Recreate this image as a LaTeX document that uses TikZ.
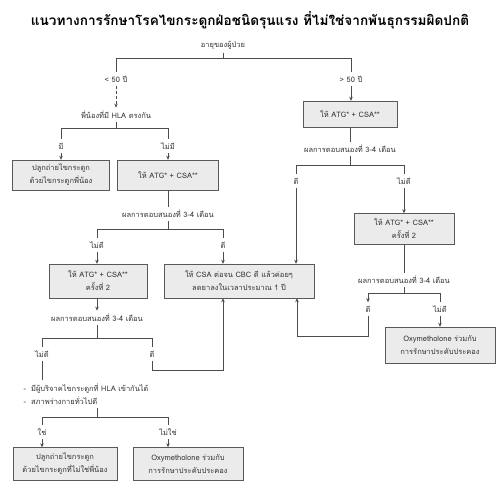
\documentclass[tikz,border=0pt]{standalone}
\usepackage{fontspec}
\newfontfamily\thaifont[Script=Thai]{Loma}
\usetikzlibrary{arrows.meta}

\tikzset{
  box/.style={draw=black!65, fill=black!8, align=center, inner sep=1pt,
    font=\thaifont\fontsize{7.5}{13}\selectfont},
  ln/.style={draw=black!70, line width=0.6pt},
  arr/.style={ln, -{Stealth[length=4pt,width=3.5pt]}},
}

\begin{document}
\begin{tikzpicture}[x=1pt, y=-1pt, font=\thaifont\fontsize{7.5}{9}\selectfont, text=black!80]
		\useasboundingbox (0,0) rectangle (500,495);
		\node[text=black] (title) at (250,20) {\fontsize{13.6}{15}\selectfont\bfseries แนวทางการรักษาโรคไขกระดูกฝ่อชนิดรุนแรง ที่ไม่ใช่จากพันธุกรรมผิดปกติ};
		% age split
		\node (age) at (223,45) {อายุของผู้ป่วย};
		\coordinate (h1l) at (116,58);
		\coordinate (h1r) at (351,58);
		\draw[ln] (age) -- (age |- h1l);
		\draw[ln] (h1l) -- (h1r);
		\node (lt) at (116,79) {< 50 ปี};
		\node (gt) at (351,79) {> 50 ปี};
		\draw[ln] (h1l) -- (lt);
		\draw[ln] (h1r) -- (gt);
		% left branch
		\node (sib) at (116,115) {พี่น้องที่มี HLA ตรงกัน};
		\draw[arr, densely dashed] (lt) -- (sib);
		\coordinate (h2l) at (61,128);
		\coordinate (h2r) at (168,128);
		\draw[ln] (sib) -- (sib |- h2l);
		\draw[ln] (h2l) -- (h2r);
		\node (has) at (61,146) {มี};
		\node (hasno) at (168,146) {ไม่มี};
		\draw[ln] (h2l) -- (has);
		\draw[ln] (h2r) -- (hasno);
		\node[box, minimum width=97pt, minimum height=30pt] (bsib) at (61,175) {ปลูกถ่ายไขกระดูก\\ด้วยไขกระดูกพี่น้อง};
		\node[box, minimum width=101pt, minimum height=30pt] (atga) at (168,175) {ให้ ATG* + CSA**};
		\draw[arr] (has) -- (bsib);
		\draw[arr] (hasno) -- (atga);
		\node (resa) at (168,214) {ผลการตอบสนองที่ 3-4 เดือน};
		\draw[ln] (atga) -- (resa);
		\coordinate (h3l) at (97,229);
		\coordinate (h3r) at (223,229);
		\draw[ln] (resa) -- (resa |- h3l);
		\draw[ln] (h3l) -- (h3r);
		\node (bada) at (97,245) {ไม่ดี};
		\node (gooda) at (223,245) {ดี};
		\draw[ln] (h3l) -- (bada);
		\draw[ln] (h3r) -- (gooda);
		\node[box, minimum width=98pt, minimum height=34pt] (atgb) at (98,281) {ให้ ATG* + CSA**\\ครั้งที่ 2};
		\node[box, minimum width=150pt, minimum height=34pt] (csa) at (239,281) {ให้ CSA ต่อจน CBC ดี แล้วค่อยๆ\\ลดยาลงในเวลาประมาณ 1 ปี};
		\draw[arr] (bada) -- (bada |- atgb.north);
		\draw[arr] (gooda) -- (gooda |- csa.north);
		\node (resb) at (97,318) {ผลการตอบสนองที่ 3-4 เดือน};
		\draw[arr] (atgb.south -| resb) -- (resb);
		\coordinate (h4l) at (42,338);
		\coordinate (h4r) at (152,338);
		\draw[ln] (resb) -- (resb |- h4l);
		\draw[ln] (h4l) -- (h4r);
		\node (badb) at (42,354) {ไม่ดี};
		\node (goodb) at (152,354) {ดี};
		\draw[ln] (h4l) -- (badb);
		\draw[ln] (h4r) -- (goodb);
		\coordinate (c1) at (223,370);
		\draw[arr] (goodb) |- (c1) -- (c1 |- csa.south);
		\node[anchor=west, align=left, font=\thaifont\fontsize{7.5}{13}\selectfont] (crit) at (20,394) {-\ \ มีผู้บริจาคไขกระดูกที่ HLA เข้ากันได้\\-\ \ สภาพร่างกายทั่วไปดี};
		\draw[ln] (badb) -- (badb |- crit.north);
		\coordinate (h5) at (97,417);
		\coordinate (h5l) at (42,417);
		\coordinate (h5r) at (168,417);
		\draw[ln] (h5 |- crit.south) -- (h5);
		\draw[ln] (h5l) -- (h5r);
		\node (yes) at (42,432) {ใช่};
		\node (no) at (168,432) {ไม่ใช่};
		\draw[ln] (h5l) -- (yes);
		\draw[ln] (h5r) -- (no);
		\node[box, minimum width=104pt, minimum height=33pt] (nsib) at (65,464) {ปลูกถ่ายไขกระดูก\\ด้วยไขกระดูกที่ไม่ใช่พี่น้อง};
		\node[box, minimum width=110pt, minimum height=33pt] (oxya) at (188,464) {Oxymetholone ร่วมกับ\\การรักษาประคับประคอง};
		\draw[arr] (yes) -- (yes |- nsib.north);
		\draw[arr] (no) -- (no |- oxya.north);
		% right branch
		\node[box, minimum width=94pt, minimum height=26pt] (atgc) at (350,114) {ให้ ATG* + CSA**};
		\draw[arr] (gt) -- (gt |- atgc.north);
		\node (resc) at (350,149) {ผลการตอบสนองที่ 3-4 เดือน};
		\draw[ln] (atgc) -- (resc);
		\coordinate (h6l) at (296,165);
		\coordinate (h6r) at (404,165);
		\draw[ln] (resc) -- (resc |- h6l);
		\draw[ln] (h6l) -- (h6r);
		\node (goodc) at (296,181) {ดี};
		\node (badc) at (404,181) {ไม่ดี};
		\draw[ln] (h6l) -- (goodc);
		\draw[ln] (h6r) -- (badc);
		\draw[arr] (goodc) -- (goodc |- csa.north);
		\node[box, minimum width=100pt, minimum height=31pt] (atgd) at (404,229) {ให้ ATG* + CSA**\\ครั้งที่ 2};
		\draw[arr] (badc) -- (atgd);
		\node (resd) at (404,280) {ผลการตอบสนองที่ 3-4 เดือน};
		\draw[ln] (atgd) -- (resd);
		\coordinate (h7l) at (368,293);
		\coordinate (h7r) at (440,293);
		\draw[ln] (resd) -- (resd |- h7l);
		\draw[ln] (h7l) -- (h7r);
		\node (goodd) at (368,309) {ดี};
		\node (badd) at (440,309) {ไม่ดี};
		\draw[arr] (h7l) -- (goodd);
		\draw[ln] (h7r) -- (badd);
		\coordinate (c2) at (297,336);
		\draw[arr] (goodd) |- (c2) -- (c2 |- csa.south);
		\node[box, minimum width=110pt, minimum height=36pt] (oxyb) at (440,345) {Oxymetholone ร่วมกับ\\การรักษาประคับประคอง};
		\draw[arr] (badd) -- (badd |- oxyb.north);
	\end{tikzpicture}
\end{document}
